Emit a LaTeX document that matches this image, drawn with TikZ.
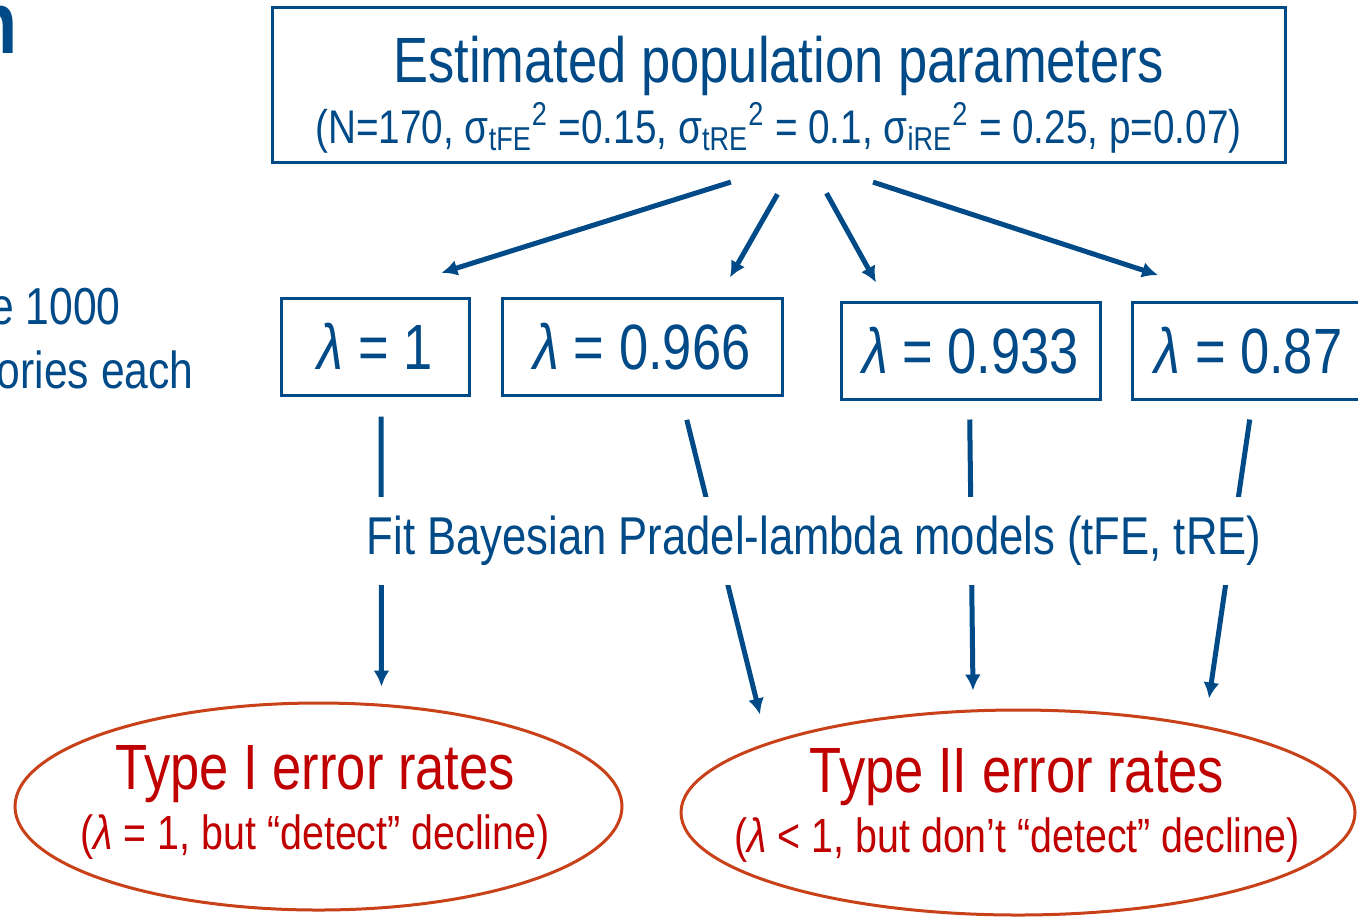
\documentclass[tikz,border=0pt]{standalone}
\usepackage{fontspec}
\setmainfont{Liberation Sans}[FakeStretch=0.82]
\usepackage{tikz}
\usetikzlibrary{positioning,calc,arrows.meta,shapes.geometric}
\definecolor{dblue}{RGB}{0,74,135}
\definecolor{dred}{RGB}{192,0,0}
\definecolor{ellred}{RGB}{200,65,25}
\tikzset{
  >={Latex},
  arr/.style    ={draw=dblue, line width=2.5pt, -{Latex[length=8pt,width=8pt]}},
  lambox/.style ={draw=dblue, line width=1.5pt, text=dblue, inner sep=0pt,
                  minimum height=48.5pt, font=\fontsize{32}{36}\selectfont},
  errell/.style ={ellipse, draw=ellred, line width=1.5pt, inner sep=0pt},
  errtxt/.style ={text=dred, inner sep=0pt, align=center, font=\fontsize{24}{30}\selectfont},
}
\newcommand{\lam}{\textit{λ}}
\newcommand{\sig}[1]{σ\textsubscript{#1}\textsuperscript{2}}

\begin{document}
\begin{tikzpicture}[x=0.5pt,y=-0.5pt]
  \useasboundingbox (0,0) rectangle (1358,917);
  \clip (0,0) rectangle (1358,917);
  \fill[white] (0,0) rectangle (1358,917);

  % left margin (cut off)
  \node[anchor=base east, inner sep=0pt, text=dblue, font=\fontsize{44}{48}\selectfont\bfseries] (ttl) at (18,53) {n};
  \node[anchor=base east, inner sep=0pt, text=dblue, font=\fontsize{26}{30}\selectfont] (sim1) at (121,324) {e 1000};
  \node[anchor=base east, inner sep=0pt, text=dblue, font=\fontsize{26}{30}\selectfont] (sim2) at (194,388) {ories each};

  % top
  \node[draw=dblue, line width=1.5pt, text=dblue, inner sep=0pt, align=center,
        minimum width=506.5pt, minimum height=77.5pt, font=\fontsize{23.6}{30.5}\selectfont]
        (params) at (778.5,84.5)
        {\rule{0pt}{33pt}{\fontsize{32}{30.5}\selectfont Estimated population parameters}\\
         (N=170, \sig{tFE} =0.15, \sig{tRE} = 0.1, \sig{iRE} = 0.25, p=0.07)};

  % lambda values
  \node[lambox, minimum width=94pt]    (lam1) at (375,346.5)  {\lam{} = 1};
  \node[lambox, minimum width=140pt]   (lam2) at (642,346.5)  {\lam{} = 0.966};
  \node[lambox, minimum width=129.5pt] (lam3) at (970.5,350.5) {\lam{} = 0.933};
  \node[lambox, minimum width=116.5pt] (lam4) at (1248.5,350.5) {\lam{} = 0.87};

  % error rates
  \node[errell, minimum width=303.5pt, minimum height=103.5pt] (type1) at (318.5,806.5) {};
  \node[errell, minimum width=337pt, minimum height=102.5pt] (type2) at (1018,812.5) {};
  \node[errtxt] (type1txt) at (315,802)
        {{\fontsize{32}{30}\selectfont Type I error rates}\\(\lam{} = 1, but “detect” decline)};
  \node[errtxt] (type2txt) at (1017,805)
        {{\fontsize{32}{30}\selectfont Type II error rates}\\(\lam{} < 1, but don’t “detect” decline)};

  \draw[arr, shorten <=31pt, shorten >=39.5pt] ($(params.south)+(11.5,0)$) -- ($(lam1.north)+(-9,0)$);
  \draw[arr, shorten <=17.7pt, shorten >=11pt] ($(params.south)+(16.5,0)$) -- ($(lam2.north)+(77,0)$);
  \draw[arr, shorten <=17pt, shorten >=10.3pt] ($(params.south)+(31.5,0)$) -- ($(lam3.north)+(-84.5,0)$);
  \draw[arr, shorten <=30pt, shorten >=41pt] ($(params.south)+(37.5,0)$) -- ($(lam4.north)+(-12.5,0)$);

  \draw[arr, shorten <=10pt] ($(lam1.south)+(6,0)$) -- ($(type1.north)+(63,-15)$);
  \draw[arr, shorten <=12pt] ($(lam2.south)+(39,0)$) -- ($(type2.north)+(-258,6)$);
  \draw[arr, shorten <=9.5pt] ($(lam3.south)+(-1,0)$) -- ($(type2.north)+(-45,-18)$);
  \draw[arr, shorten <=9.6pt] ($(lam4.south)+(4,0)$) -- ($(type2.north)+(191,-10)$);

  \node[fill=white, text=dblue, inner xsep=2pt, minimum height=44pt,
        font=\fontsize{26.6}{30}\selectfont] (fit) at (814,541)
        {Fit Bayesian Pradel-lambda models (tFE, tRE)};
\end{tikzpicture}
\end{document}
